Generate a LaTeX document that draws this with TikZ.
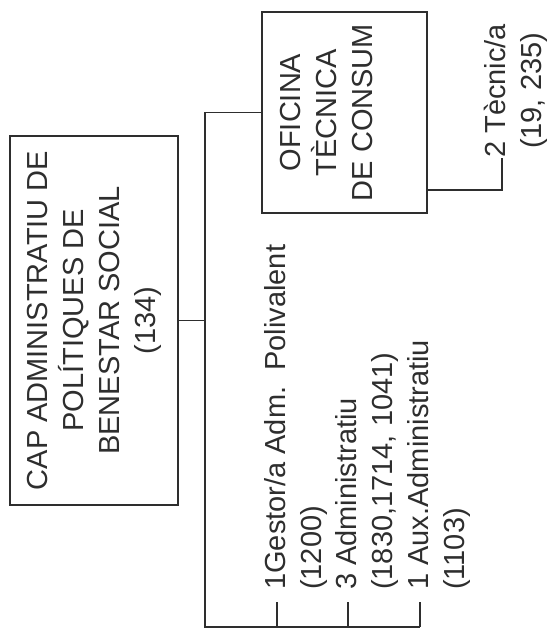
\documentclass[tikz,border=0pt]{standalone}
\usepackage{fontspec}
\setmainfont{Liberation Sans}
\usepackage{tikz}
\usetikzlibrary{positioning}
\colorlet{ink}{black!82}
\newcommand\orgfont{\fontsize{29}{36}\selectfont}
\tikzstyle{unit}=[draw=ink,line width=1.1pt,rotate=90,align=center,inner sep=0pt,font=\orgfont,text=ink]
\tikzstyle{staff}=[rotate=90,align=left,inner sep=0pt,anchor=base west,font=\orgfont,text=ink]
\tikzstyle{link}=[draw=ink,line width=1.1pt]

\begin{document}
\begin{tikzpicture}[x=1pt,y=-1pt]
	\useasboundingbox (0,0) rectangle (554,628);
	\node[unit,minimum width=369pt,minimum height=168pt] (cap) at (94,320.5)
		{CAP ADMINISTRATIU DE\\POLÍTIQUES DE\\BENESTAR SOCIAL\\(134)};
	\node[unit,minimum width=201pt,minimum height=165pt,text depth=36pt] (ofi) at (344.5,112.5)
		{OFICINA\\TÈCNICA\\DE CONSUM};
	\node[staff,align=center] (tec) at (541,158) {2 Tècnic/a\\(19, 235)};
	\coordinate (bot) at (205,627);
	\coordinate (tk) at (502,190);
	% trunk and branches
	\draw[link] (cap.south) -- (cap.south -| bot);
	\draw[link] (ofi.north) -| (bot) -- (420,627);
	\draw[link] (ofi.south |- tk) -- (tk) -- (tk |- tec.west);
	\foreach \x/\name/\txt in {277/s1/{1Gestor/a Adm.\ \ Polivalent\\(1200)},
		348/s2/{3 Administratiu\\(1830,1714, 1041)},
		420/s3/{1 Aux.Administratiu\\(1103)}} {
		\node[staff] (\name) at (\x+44,590) {\txt};
		\draw[link] (\x,602) -- (\x,627);
	}
\end{tikzpicture}
\end{document}
